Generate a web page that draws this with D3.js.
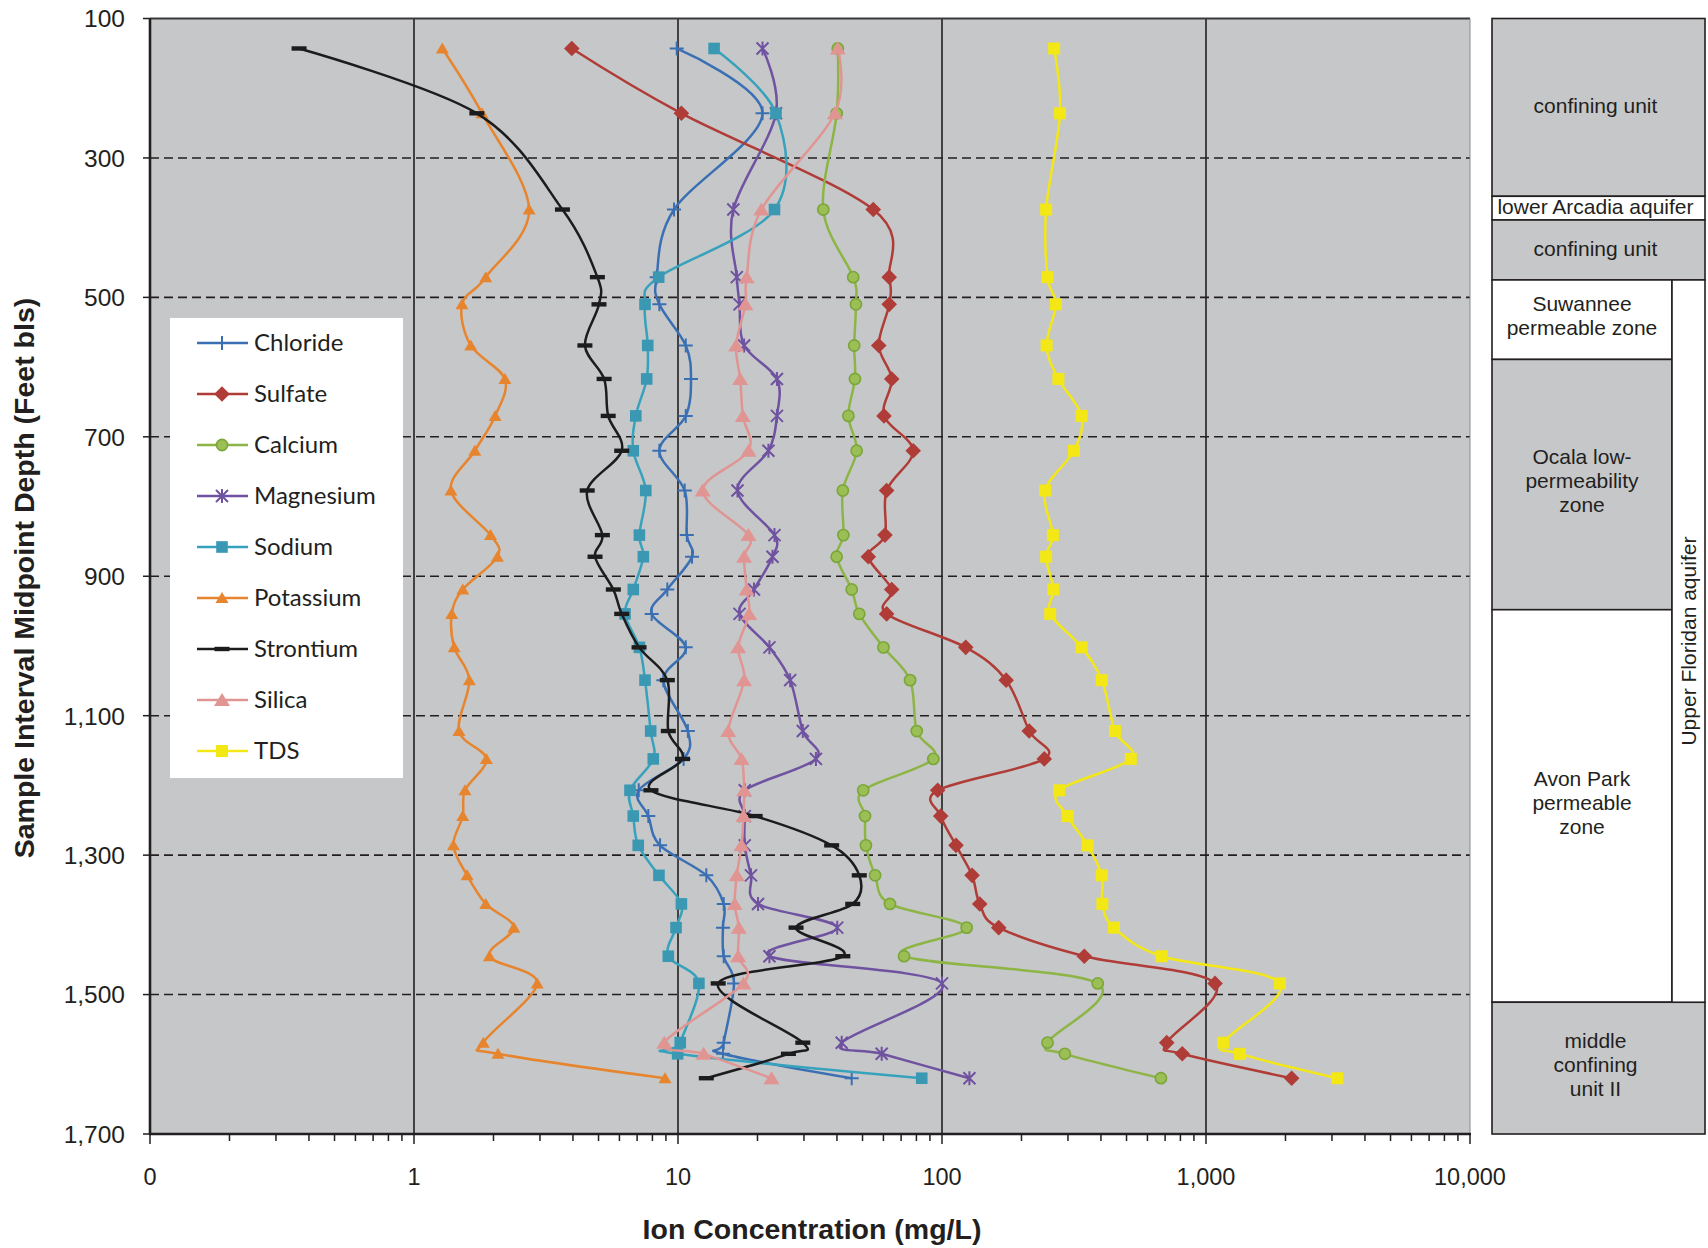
<!DOCTYPE html>
<html>
<head>
<meta charset="utf-8">
<script src="https://cdn.jsdelivr.net/npm/d3@7"></script>
<style>
  body { margin: 0; background: #ffffff; }
  svg { display: block; }
</style>
</head>
<body>
<svg id="chart" width="1708" height="1248"></svg>
<script>
// Sample interval midpoint depths (feet below land surface)
const depths = [143, 236, 374, 471, 510, 569, 617, 670, 720, 777, 841, 872, 919, 954, 1002,
                1049, 1122, 1162, 1207, 1244, 1286, 1329, 1370, 1404, 1445, 1484, 1569, 1585, 1620];

// Ion concentrations (mg/L), one value per depth
const chloride  = [9.89, 20.9, 9.66, 8.30, 8.50, 10.7, 11.2, 10.7, 8.5, 10.6, 10.8, 11.3, 9.11, 7.95, 10.7,
                   8.80, 10.9, 10.5, 7.1, 7.72, 8.55, 12.8, 14.9, 14.8, 14.9, 16.3, 14.9, 14.8, 45.5];
const sulfate   = [3.96, 10.3, 54.9, 63.1, 63.1, 57.6, 64.5, 60.3, 77.8, 61.7, 60.8, 52.6, 64.5, 61.7, 123,
                   175, 214, 244, 96.3, 98.9, 113, 130, 139, 164, 346, 1082, 710, 813, 2111];
const calcium   = [40.3, 39.9, 35.5, 46.1, 47.2, 46.5, 46.8, 44.2, 47.5, 42.1, 42.3, 39.9, 45.5, 48.6, 60.0,
                   75.7, 80.2, 92.7, 50.3, 51.1, 51.5, 55.8, 63.5, 124, 71.8, 389, 251, 292, 675];
const magnesium = [20.9, 23.5, 16.2, 16.7, 17.1, 17.8, 23.7, 23.7, 22.0, 16.8, 23.2, 22.8, 19.4, 17.1, 22.2,
                   26.6, 29.7, 33.3, 17.9, 17.9, 17.9, 18.9, 20.1, 40.1, 22.2, 100, 41.7, 59.1, 127];
const sodium    = [13.7, 23.5, 23.2, 8.45, 7.50, 7.68, 7.61, 6.92, 6.77, 7.55, 7.14, 7.39, 6.77, 6.30, 7.14,
                   7.50, 7.88, 8.06, 6.58, 6.77, 7.07, 8.47, 10.3, 9.83, 9.19, 12.0, 10.2, 9.97, 83.8];
const potassium = [1.28, 1.81, 2.73, 1.87, 1.52, 1.64, 2.21, 2.03, 1.70, 1.38, 1.95, 2.07, 1.53, 1.39, 1.42,
                   1.62, 1.48, 1.88, 1.56, 1.53, 1.41, 1.59, 1.87, 2.39, 1.93, 2.93, 1.83, 2.08, 8.93];
const strontium = [0.367, 1.73, 3.65, 4.95, 5.02, 4.44, 5.25, 5.44, 6.12, 4.53, 5.17, 4.85, 5.69, 6.12, 7.12,
                   9.11, 9.19, 10.4, 7.9, 19.6, 38.2, 48.6, 45.9, 28.0, 42.1, 14.2, 29.7, 26.2, 12.8];
const silica    = [40.3, 39.3, 20.7, 18.2, 18.0, 16.6, 17.2, 17.6, 18.5, 12.4, 18.5, 17.8, 18.2, 18.6, 16.9,
                   17.8, 15.5, 17.4, 17.8, 17.7, 17.4, 16.7, 16.4, 17.0, 16.9, 17.7, 8.87, 12.5, 22.6];
const tds       = [266, 280, 248, 251, 270, 249, 276, 338, 316, 246, 263, 248, 264, 257, 338,
                   403, 452, 519, 278, 299, 356, 403, 405, 448, 679, 1907, 1163, 1345, 3143];

const seriesNames = ["Chloride", "Sulfate", "Calcium", "Magnesium", "Sodium", "Potassium", "Strontium", "Silica", "TDS"];
const seriesValues = [chloride, sulfate, calcium, magnesium, sodium, potassium, strontium, silica, tds];

// Axis ticks
const xTickValues = [0.1, 1, 10, 100, 1000, 10000];
const xTickLabels = ["0", "1", "10", "100", "1,000", "10,000"];
const yTickValues = [100, 300, 500, 700, 900, 1100, 1300, 1500, 1700];
const yTickLabels = ["100", "300", "500", "700", "900", "1,100", "1,300", "1,500", "1,700"];

// Hydrogeologic units beside the plot (depth ranges in feet)
const zoneLabels  = [["confining unit"], ["lower Arcadia aquifer"], ["confining unit"],
                     ["Suwannee", "permeable zone"], ["Ocala low-", "permeability", "zone"],
                     ["Avon Park", "permeable", "zone"], ["middle", "confining", "unit II"]];
const zoneTops    = [100, 355, 389, 475, 589, 948, 1511];
const zoneBottoms = [355, 389, 475, 589, 948, 1511, 1700];
const aquiferLabel = "Upper Floridan aquifer";
const aquiferTop = 475, aquiferBottom = 1511;

(function draw() {
  const svg = d3.select("#chart");
  const GRAY = "#c6c7c9", INK = "#231f20";
  const SANS = "'Liberation Sans', Arial, Helvetica, sans-serif";
  const plotL = 150, plotR = 1470, plotT = 18.5, plotB = 1134;

  const x = d3.scaleLog().domain([0.1, 10000]).range([plotL, plotR]);
  const y = d3.scaleLinear().domain([100, 1700]).range([plotT, plotB]);

  const styles = {
    Chloride:  { color: "#3a70b3", marker: "plus" },
    Sulfate:   { color: "#b03c37", marker: "diamond" },
    Calcium:   { color: "#8cb545", marker: "circle", fill: "#9bbf55", stroke: "#7aa63a" },
    Magnesium: { color: "#6f52a0", marker: "star" },
    Sodium:    { color: "#37a2bc", marker: "square", fill: "#3a98b3" },
    Potassium: { color: "#e7852e", marker: "triSmall" },
    Strontium: { color: "#1c1c1c", marker: "dash" },
    Silica:    { color: "#e09593", marker: "triBig" },
    TDS:       { color: "#f3e815", marker: "squareBig" }
  };

  function drawMarker(g, type, st) {
    switch (type) {
      case "plus":
        return g.append("path").attr("d", "M-7,0H7M0,-7V7").attr("stroke", st.color).attr("stroke-width", 2).attr("fill", "none");
      case "diamond":
        return g.append("path").attr("d", "M0,-7.8L7.8,0L0,7.8L-7.8,0Z").attr("fill", st.color);
      case "circle":
        return g.append("circle").attr("r", 5.6).attr("fill", st.fill).attr("stroke", st.stroke).attr("stroke-width", 1.6);
      case "star":
        return g.append("path").attr("d", "M-6,-6L6,6M6,-6L-6,6M0,-7V7").attr("stroke", st.color).attr("stroke-width", 2).attr("fill", "none");
      case "square":
        return g.append("rect").attr("x", -5.8).attr("y", -5.8).attr("width", 11.6).attr("height", 11.6).attr("fill", st.fill);
      case "squareBig":
        return g.append("rect").attr("x", -6).attr("y", -6).attr("width", 12).attr("height", 12).attr("fill", st.color);
      case "triSmall":
        return g.append("path").attr("d", "M0,-6L6.5,5L-6.5,5Z").attr("fill", st.color);
      case "triBig":
        return g.append("path").attr("d", "M0,-7L8,6L-8,6Z").attr("fill", st.color);
      case "dash":
        return g.append("rect").attr("x", -7.5).attr("y", -2.2).attr("width", 15).attr("height", 4.4).attr("fill", st.color);
    }
  }

  // plot background
  svg.append("rect").attr("x", plotL).attr("y", plotT).attr("width", plotR - plotL).attr("height", plotB - plotT).attr("fill", GRAY);

  // vertical decade gridlines
  svg.append("g").selectAll("line").data([1, 10, 100, 1000]).join("line")
    .attr("x1", d => x(d)).attr("x2", d => x(d)).attr("y1", plotT).attr("y2", plotB)
    .attr("stroke", INK).attr("stroke-width", 1.6);

  // horizontal dashed gridlines
  svg.append("g").selectAll("line").data(yTickValues.slice(1, -1)).join("line")
    .attr("x1", plotL).attr("x2", plotR).attr("y1", d => y(d)).attr("y2", d => y(d))
    .attr("stroke", INK).attr("stroke-width", 1.6).attr("stroke-dasharray", "9,5");

  // top and right edges
  svg.append("line").attr("x1", plotL).attr("x2", plotR).attr("y1", plotT).attr("y2", plotT)
    .attr("stroke", "#3a3a3a").attr("stroke-width", 1.8);
  svg.append("line").attr("x1", plotR).attr("x2", plotR).attr("y1", plotT).attr("y2", plotB)
    .attr("stroke", "#8a8b8d").attr("stroke-width", 1);

  // legend box (sits under the series, over the grid)
  const legendX = 170, legendY = 318;
  svg.append("rect").attr("x", legendX).attr("y", legendY).attr("width", 233).attr("height", 460).attr("fill", "#ffffff");

  // series lines and markers
  const line = d3.line().x(d => x(d[1])).y(d => y(d[0])).curve(d3.curveCardinal.tension(0));
  seriesNames.forEach((name, i) => {
    const st = styles[name];
    const pts = depths.map((d, j) => [d, seriesValues[i][j]]);
    const g = svg.append("g");
    g.append("path").attr("d", line(pts)).attr("fill", "none").attr("stroke", st.color)
      .attr("stroke-width", 2.5).attr("stroke-linejoin", "round");
    pts.forEach(p => {
      const m = g.append("g").attr("transform", `translate(${x(p[1])},${y(p[0])})`);
      drawMarker(m, st.marker, st);
    });
  });

  // legend entries
  seriesNames.forEach((name, i) => {
    const st = styles[name];
    const cy = legendY + 25 + i * 51;
    const g = svg.append("g");
    g.append("line").attr("x1", 197).attr("x2", 248).attr("y1", cy).attr("y2", cy)
      .attr("stroke", st.color).attr("stroke-width", 2.5);
    drawMarker(g.append("g").attr("transform", `translate(222,${cy})`), st.marker, st);
    g.append("text").attr("x", 254).attr("y", cy).attr("dy", "0.35em")
      .attr("font-family", "Lato, 'Open Sans', sans-serif").attr("font-size", 24).attr("fill", INK)
      .text(name);
  });

  // left axis
  svg.append("line").attr("x1", plotL).attr("x2", plotL).attr("y1", plotT).attr("y2", plotB + 1)
    .attr("stroke", INK).attr("stroke-width", 2.6);
  svg.append("g").selectAll("line").data(yTickValues).join("line")
    .attr("x1", plotL - 7).attr("x2", plotL).attr("y1", d => y(d)).attr("y2", d => y(d))
    .attr("stroke", INK).attr("stroke-width", 1.5);
  svg.append("g").selectAll("text").data(yTickValues).join("text")
    .attr("x", 125).attr("y", d => y(d)).attr("dy", "0.36em").attr("text-anchor", "end")
    .attr("font-family", SANS).attr("font-size", 24.5).attr("fill", INK)
    .text((d, i) => yTickLabels[i]);

  // bottom axis with log ticks
  svg.append("line").attr("x1", plotL - 1).attr("x2", plotR + 1).attr("y1", plotB).attr("y2", plotB)
    .attr("stroke", INK).attr("stroke-width", 2.6);
  const logTicks = x.ticks();
  svg.append("g").selectAll("line").data(logTicks).join("line")
    .attr("x1", d => x(d)).attr("x2", d => x(d)).attr("y1", plotB)
    .attr("y2", d => xTickValues.includes(d) ? plotB + 10 : plotB + 7)
    .attr("stroke", INK).attr("stroke-width", 1.5);
  svg.append("g").selectAll("text").data(xTickValues).join("text")
    .attr("x", d => x(d)).attr("y", 1177).attr("dy", "0.36em").attr("text-anchor", "middle")
    .attr("font-family", SANS).attr("font-size", 23.5).attr("fill", INK)
    .text((d, i) => xTickLabels[i]);

  // axis titles
  svg.append("text").attr("transform", "translate(24,578) rotate(-90)").attr("text-anchor", "middle").attr("dy", "0.35em")
    .attr("font-family", SANS).attr("font-weight", "bold").attr("font-size", 28.5).attr("fill", INK)
    .text("Sample Interval Midpoint Depth (Feet bls)");
  svg.append("text").attr("x", 812).attr("y", 1229).attr("text-anchor", "middle").attr("dy", "0.35em")
    .attr("font-family", SANS).attr("font-weight", "bold").attr("font-size", 28.5).attr("fill", INK)
    .text("Ion Concentration (mg/L)");

  // hydrogeologic column
  const colLeft = 1492, colRight = 1705, colInner = 1672;
  const narrow = z => z[0] >= aquiferTop && z[1] <= aquiferBottom;
  const zones = zoneTops.map((t, i) => [t, zoneBottoms[i], zoneLabels[i], i % 2 === 0]);
  const col = svg.append("g");
  zones.forEach(z => {
    const x1 = colLeft, x2 = narrow(z) ? colInner : colRight;
    col.append("rect").attr("x", x1).attr("y", y(z[0])).attr("width", x2 - x1).attr("height", y(z[1]) - y(z[0]))
      .attr("fill", z[3] ? GRAY : "#ffffff").attr("stroke", INK).attr("stroke-width", 1.6);
    const cx = (x1 + x2) / 2 - (narrow(z) ? 0 : 3), cy = (y(z[0]) + y(z[1])) / 2;
    const n = z[2].length;
    z[2].forEach((t, k) => {
      col.append("text").attr("x", cx).attr("y", cy + (k - (n - 1) / 2) * 24 - (n > 1 ? 4 : 2)).attr("dy", "0.36em")
        .attr("text-anchor", "middle").attr("font-family", SANS)
        .attr("font-size", 21).attr("fill", INK).text(t);
    });
  });
  col.append("rect").attr("x", colInner).attr("y", y(aquiferTop)).attr("width", colRight - colInner)
    .attr("height", y(aquiferBottom) - y(aquiferTop)).attr("fill", "#ffffff").attr("stroke", INK).attr("stroke-width", 1.6);
  col.append("text")
    .attr("transform", `translate(${(colInner + colRight) / 2},${(y(aquiferTop) + y(aquiferBottom)) / 2}) rotate(-90)`)
    .attr("text-anchor", "middle").attr("dy", "0.36em").attr("font-family", SANS)
    .attr("font-size", 21).attr("fill", INK).text(aquiferLabel);
})();
</script>
</body>
</html>
